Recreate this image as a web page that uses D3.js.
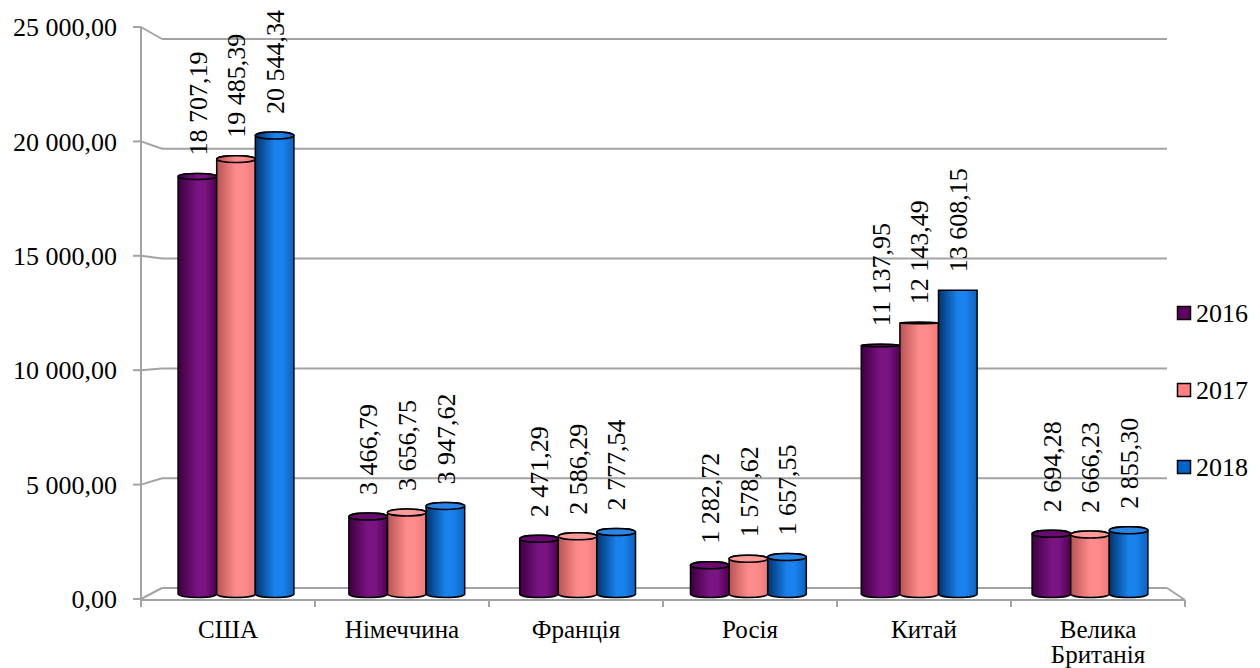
<!DOCTYPE html>
<html><head><meta charset="utf-8">
<script src="https://cdn.jsdelivr.net/npm/d3@7"></script>
<style>
html,body{margin:0;padding:0;background:#fff;}
</style></head>
<body>
<svg id="chart" width="1260" height="668"></svg>
<script>
const categories = ["США","Німеччина","Франція","Росія","Китай","Велика Британія"];
const years = ["2016","2017","2018"];
const v2016 = [18707.19, 3466.79, 2471.29, 1282.72, 11137.95, 2694.28];
const v2017 = [19485.39, 3656.75, 2586.29, 1578.62, 12143.49, 2666.23];
const v2018 = [20544.34, 3947.62, 2777.54, 1657.55, 13608.15, 2855.30];
const yTicks = [0, 5000, 10000, 15000, 20000, 25000];
const seriesValues = [v2016, v2017, v2018];

const FONT = "'Liberation Serif', 'Times New Roman', 'DejaVu Serif', serif";

const colors = {
  "2016": {dark:"#3c0040", mid:"#7a1482", edge:"#4e0052", cap:"#6a0a70", legend:"#600060"},
  "2017": {dark:"#b85454", mid:"#ff8c8c", edge:"#f07878", cap:"#ff9a9a", legend:"#ff8080"},
  "2018": {dark:"#00336e", mid:"#1a82ec", edge:"#0a62c4", cap:"#2a86e6", legend:"#0066cc"}
};

const fmt = d3.formatLocale({decimal:",", thousands:" ", grouping:[3], currency:["",""]}).format(",.2f");

const svg = d3.select("#chart").style("font-family", FONT);

const yFront = d3.scaleLinear().domain([0,25000]).range([599,27]);
const yBack = d3.scaleLinear().domain([0,25000]).range([588,39]);
const yBar = d3.scaleLinear().domain([0,25000]).range([594,36]);
const xFront = d3.scaleBand().domain(categories).range([141,1185]).padding(0);
const xBar = d3.scaleBand().domain(categories).range([150.6,1175.4]).padding(0);
const xSeries = d3.scaleBand().domain(years).range([0, xBar.bandwidth()]).paddingInner(0).paddingOuter(0.712);

const backL = 162, backR = 1167, frontAxisY = 600;
const grid = "#a3a3a3";

const defs = svg.append("defs");
years.forEach(y => {
  const g = defs.append("linearGradient").attr("id","g"+y).attr("x1","0").attr("x2","1").attr("y1","0").attr("y2","0");
  g.append("stop").attr("offset","0%").attr("stop-color",colors[y].dark);
  g.append("stop").attr("offset","50%").attr("stop-color",colors[y].mid);
  g.append("stop").attr("offset","70%").attr("stop-color",colors[y].mid);
  g.append("stop").attr("offset","100%").attr("stop-color",colors[y].edge);
});

const gg = svg.append("g");
yTicks.forEach(t => {
  gg.append("line").attr("x1",backL).attr("x2",backR).attr("y1",yBack(t)).attr("y2",yBack(t))
    .attr("stroke",grid).attr("stroke-width",2);
  gg.append("line").attr("x1",141).attr("x2",backL).attr("y1",yFront(t)).attr("y2",yBack(t))
    .attr("stroke",grid).attr("stroke-width",2);
  gg.append("line").attr("x1",133).attr("x2",141).attr("y1",yFront(t)).attr("y2",yFront(t))
    .attr("stroke",grid).attr("stroke-width",2);
  gg.append("text").attr("x",117).attr("y",yFront(t)).attr("dy","0.35em").attr("text-anchor","end")
    .attr("font-family",FONT).attr("font-size","26px").text(fmt(t));
});
gg.append("line").attr("x1",141).attr("x2",141).attr("y1",yFront(25000)).attr("y2",frontAxisY)
  .attr("stroke",grid).attr("stroke-width",2);
gg.append("line").attr("x1",backR).attr("x2",1185).attr("y1",yBack(0)).attr("y2",frontAxisY)
  .attr("stroke",grid).attr("stroke-width",2);
gg.append("line").attr("x1",141).attr("x2",1185).attr("y1",frontAxisY).attr("y2",frontAxisY)
  .attr("stroke",grid).attr("stroke-width",2);
const catTicks = categories.map(c => xFront(c)).concat([xFront.range()[1]]);
catTicks.forEach(x => {
  gg.append("line").attr("x1",x).attr("x2",x).attr("y1",frontAxisY).attr("y2",frontAxisY+7)
    .attr("stroke",grid).attr("stroke-width",2);
});
categories.forEach(c => {
  const lines = c.split(" ");
  const cx = xFront(c)+xFront.bandwidth()/2;
  const t = gg.append("text").attr("x", cx).attr("y",629)
    .attr("text-anchor","middle").attr("font-family",FONT).attr("font-size","25px");
  lines.forEach((l,i) => {
    t.append("tspan").attr("x", cx).attr("dy", i===0 ? "0.35em" : "1.02em").text(l);
  });
});

const eyeY = 295;
const bars = svg.append("g");
categories.forEach((c, ci) => {
  years.forEach((y, si) => {
    const v = seriesValues[si][ci];
    const x0 = xBar(c) + xSeries(y);
    const w = xSeries.bandwidth();
    const rx = w/2, cx = x0 + rx;
    const yt = yBar(v), yb = yBar(0);
    const ryt = Math.min(3.5, Math.abs(yt - eyeY) * 0.025);
    const ryb = 3.5;
    const p = `M${x0},${yt} L${x0},${yb} A${rx},${ryb} 0 0 0 ${x0+w},${yb} L${x0+w},${yt} ` +
              (ryt > 0.3 ? `A${rx},${ryt} 0 0 0 ${x0},${yt} Z` : `Z`);
    bars.append("path").attr("d",p).attr("fill",`url(#g${y})`).attr("stroke","#000").attr("stroke-width",1.5);
    if (ryt > 0.3) {
      bars.append("ellipse").attr("cx",cx).attr("cy",yt).attr("rx",rx).attr("ry",ryt)
        .attr("fill", yt > eyeY ? colors[y].cap : `url(#g${y})`).attr("stroke","#000").attr("stroke-width",1.5);
    }
    bars.append("text").attr("transform",`translate(${cx},${yt - ryt - 18}) rotate(-90)`)
      .attr("dy","0.35em").attr("text-anchor","start").attr("font-family",FONT).attr("font-size","26px").text(fmt(v));
  });
});

const legY = d3.scalePoint().domain(years).range([313, 467]);
const leg = svg.append("g");
years.forEach(y => {
  leg.append("rect").attr("x",1177.5).attr("y",legY(y)-6.5).attr("width",13).attr("height",13)
    .attr("fill",colors[y].legend).attr("stroke","#000").attr("stroke-width",1.5);
  leg.append("text").attr("x",1196).attr("y",legY(y)).attr("dy","0.35em").attr("font-family",FONT).attr("font-size","26px").text(y);
});
</script>
</body></html>
